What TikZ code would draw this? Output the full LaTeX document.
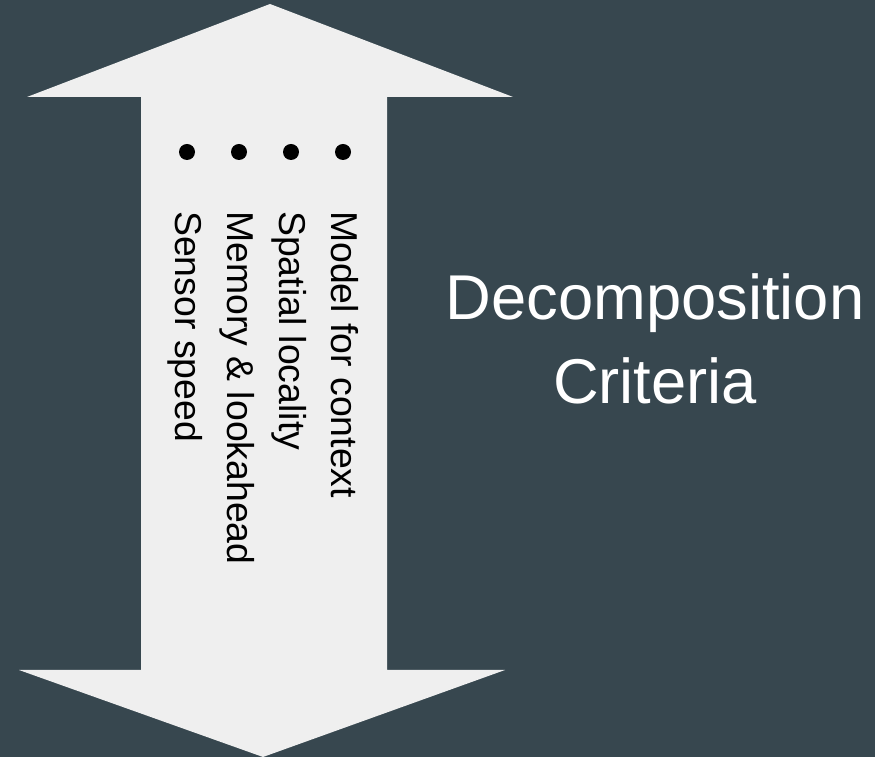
\documentclass[tikz,border=0pt]{standalone}
\usepackage{fontspec}
\setmainfont{Liberation Sans}
\definecolor{slate}{HTML}{37474F}
\definecolor{paper}{HTML}{EFEFEF}
\begin{document}
\begin{tikzpicture}[x=1pt,y=1pt,
  listitem/.style={rotate=-90,anchor=base west,inner sep=0pt,text=black,
    font=\fontsize{37.4}{44}\selectfont},
  dot/.style={circle,fill=black,inner sep=0pt,minimum size=16pt},
  title/.style={text=white,align=center,inner sep=0pt,
    font=\fontsize{63.3}{84}\selectfont}]
  % background
  \fill[slate] (0,0) rectangle (875,757);
  \useasboundingbox (0,0) rectangle (875,757);
  % double-headed arrow
  \fill[paper] (270,753) -- (513,660) -- (387,660) -- (387,87) -- (505,87)
    -- (263,0) -- (19,87) -- (141,87) -- (141,660) -- (27,660) -- cycle;
  % bullets
  \node[dot] (b1) at (343,605) {};
  \node[dot] (b2) at (291,605) {};
  \node[dot] (b3) at (239,605) {};
  \node[dot] (b4) at (187,605) {};
  % list entries, read top to bottom
  \node[listitem] (t1) at (331,546) {Model for context};
  \node[listitem] (t2) at (279,546) {Spatial locality};
  \node[listitem] (t3) at (227,546) {Memory \& lookahead};
  \node[listitem] (t4) at (175,546) {Sensor speed};
  % heading
  \node[title] (head) at (655,418) {Decomposition\\Criteria};
\end{tikzpicture}
\end{document}
